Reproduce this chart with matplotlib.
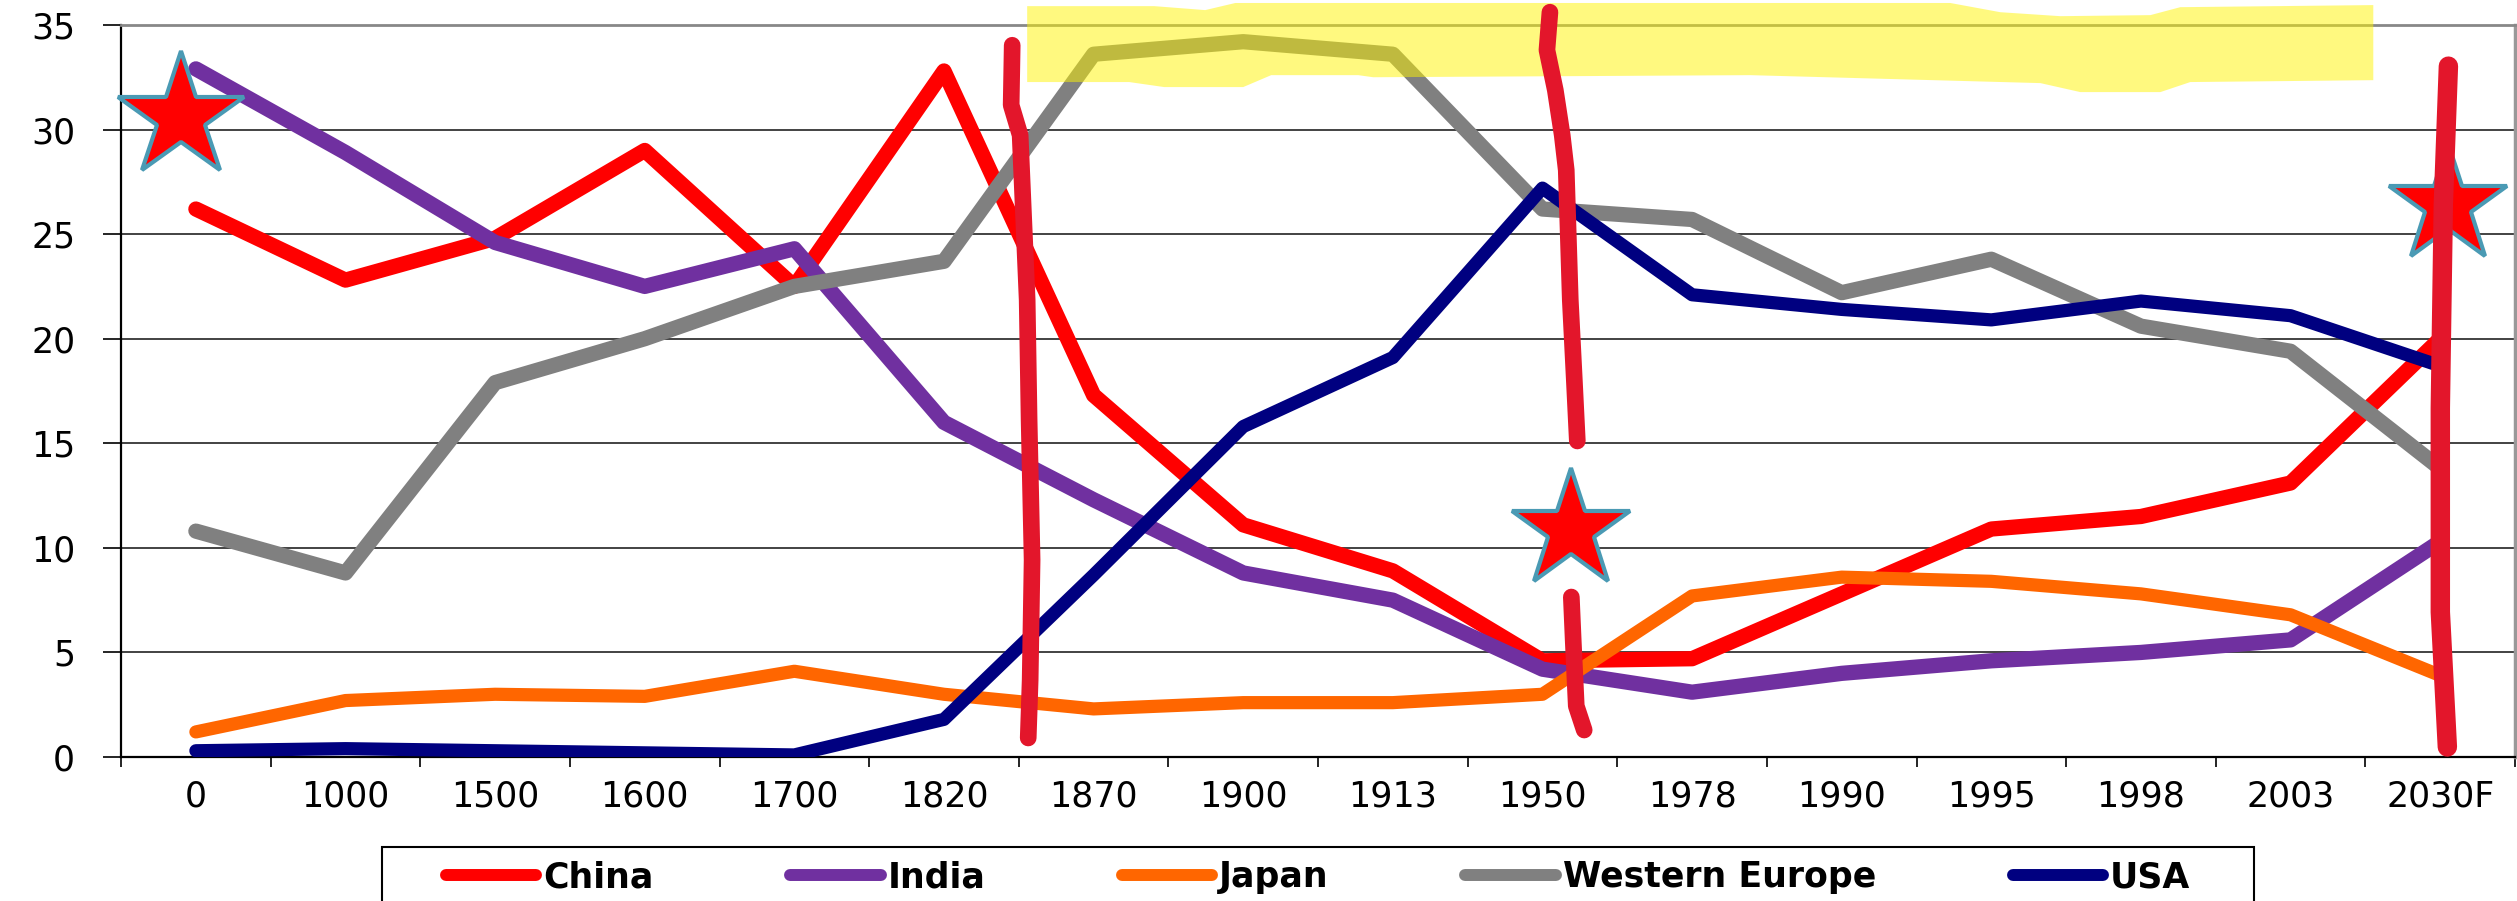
import numpy as np
import matplotlib
matplotlib.use("Agg")
import matplotlib.pyplot as plt
from matplotlib.patches import Polygon, Rectangle

# ---------------- data ----------------
categories = ['0', '1000', '1500', '1600', '1700', '1820', '1870', '1900', '1913',
              '1950', '1978', '1990', '1995', '1998', '2003', '2030F']
china   = [26.2, 22.8, 24.8, 29.0, 22.5, 32.8, 17.3, 11.1, 8.9, 4.6, 4.7, 7.8, 10.9, 11.5, 13.1, 20.0]
india   = [32.9, 28.9, 24.6, 22.5, 24.3, 16.0, 12.3, 8.8, 7.5, 4.2, 3.1, 4.0, 4.6, 5.0, 5.6, 10.3]
japan   = [1.2, 2.7, 3.0, 2.9, 4.1, 3.0, 2.3, 2.6, 2.6, 3.0, 7.7, 8.6, 8.4, 7.8, 6.8, 3.9]
weurope = [10.8, 8.8, 17.9, 20.0, 22.5, 23.7, 33.6, 34.2, 33.6, 26.2, 25.7, 22.2, 23.8, 20.6, 19.4, 13.8]
usa     = [0.3, 0.4, 0.3, 0.2, 0.1, 1.8, 8.7, 15.8, 19.1, 27.2, 22.1, 21.4, 20.9, 21.8, 21.1, 18.7]

series_names = ['China', 'India', 'Japan', 'Western Europe', 'USA']
series_values = [china, india, japan, weurope, usa]
series_colors = ['#FF0000', '#7030A0', '#FF6600', '#808080', '#000080']
series_widths = [11, 11, 9.5, 11, 9.5]

y_ticks = [0, 5, 10, 15, 20, 25, 30, 35]

# hand-drawn annotations (in data units: category index, value)
stars_x = [-0.10, 9.19, 15.05]
stars_y = [30.6, 10.85, 26.4]
stars_size = [95, 90, 90]

stroke1_x = [5.456, 5.449, 5.509, 5.536, 5.556, 5.569, 5.589, 5.576, 5.563]
stroke1_y = [34.03, 31.17, 29.73, 25.19, 21.85, 16.11, 9.42, 3.68, 0.91]
stroke2a_x = [9.050, 9.030, 9.086, 9.132, 9.159, 9.186, 9.213, 9.233]
stroke2a_y = [35.61, 33.80, 31.88, 29.73, 28.06, 21.85, 18.02, 15.11]
stroke2b_x = [9.193, 9.206, 9.226, 9.279]
stroke2b_y = [7.65, 5.50, 2.44, 1.29]
stroke3_x = [15.055, 15.021, 15.001, 15.001, 15.048]
stroke3_y = [33.03, 26.43, 16.68, 6.93, 0.48]

highlight_x = [5.556, 6.405, 6.746, 6.947, 11.726, 12.060, 12.461, 13.063, 13.263, 14.553,
               14.553, 13.330, 13.130, 12.595, 12.328, 10.389, 7.869, 7.769, 7.187, 7.000,
               6.472, 6.238, 5.556]
highlight_y = [35.90, 35.90, 35.71, 36.05, 36.05, 35.61, 35.42, 35.47, 35.85, 35.95,
               32.36, 32.27, 31.79, 31.79, 32.22, 32.60, 32.50, 32.60, 32.60, 32.03,
               32.03, 32.27, 32.27]

# ---------------- figure ----------------
plt.rcParams['font.family'] = ['DejaVu Sans']
fig = plt.figure(figsize=(25.17, 9.01), dpi=100)
ax = fig.add_axes([0.0481, 0.1598, 0.9511, 0.8125])

x = np.arange(len(categories))
lines = []
for name, vals, col, lw in zip(series_names, series_values, series_colors, series_widths):
    ln, = ax.plot(x, vals, color=col, lw=lw, label=name,
                  solid_capstyle='round', solid_joinstyle='round', zorder=3)
    lines.append(ln)

ax.set_xlim(-0.5, len(categories) - 0.5)
ax.set_ylim(0, 35)
ax.set_yticks(y_ticks)
ax.set_yticklabels([str(v) for v in y_ticks])

ax.set_xticks(np.arange(-0.5, len(categories), 1.0))
ax.set_xticklabels([])
ax.set_xticks(x, minor=True)
ax.set_xticklabels(categories, minor=True)

ax.tick_params(axis='y', length=13, width=1.2, pad=20, labelsize=25, colors='black')
ax.tick_params(axis='x', which='major', length=7, width=1.2, direction='out')
ax.tick_params(axis='x', which='minor', length=0, pad=16, labelsize=25)

ax.yaxis.grid(True, color='#222222', lw=1.2)
ax.set_axisbelow(True)

ax.spines['left'].set_color('black')
ax.spines['left'].set_linewidth(1.6)
ax.spines['bottom'].set_color('black')
ax.spines['bottom'].set_linewidth(1.6)
ax.spines['top'].set_color('#888888')
ax.spines['top'].set_linewidth(2)
ax.spines['right'].set_color('#999999')
ax.spines['right'].set_linewidth(2.5)

# yellow highlighter
ax.add_patch(Polygon(np.column_stack([highlight_x, highlight_y]), closed=True,
                     facecolor=(1.0, 0.96, 0.0, 0.5), edgecolor='none',
                     clip_on=False, zorder=5))

# stars
for sx, sy, ss in zip(stars_x, stars_y, stars_size):
    ax.plot([sx], [sy], marker='*', ms=ss, mfc='#FF0000', mec='#4A9AB4', mew=3,
            ls='none', clip_on=False, zorder=6)

# red marker strokes
stroke_col = '#E3162B'
for sxs, sys_, w in [(stroke1_x, stroke1_y, 12), (stroke2a_x, stroke2a_y, 12),
                     (stroke2b_x, stroke2b_y, 12), (stroke3_x, stroke3_y, 14)]:
    ax.plot(sxs, sys_, color=stroke_col, lw=w, solid_capstyle='round',
            solid_joinstyle='round', clip_on=False, zorder=7)

# legend
fig.patches.append(Rectangle((382 / 2517, -0.05), 1872 / 2517, 0.05 + (1 - 847 / 901),
                             transform=fig.transFigure, facecolor='white',
                             edgecolor='black', lw=1.5, zorder=1))
leg = fig.legend(handles=lines, labels=series_names, loc='center left',
                 bbox_to_anchor=(446 / 2517, 1 - 877 / 901, (2190 - 446) / 2517, 0),
                 mode='expand', ncol=5, frameon=False, borderpad=0, borderaxespad=0,
                 handlelength=2.6, handletextpad=0.2,
                 prop={'family': 'DejaVu Sans', 'weight': 'bold', 'size': 25})
for lh in leg.get_lines():
    lh.set_linewidth(8.6)
    lh.set_solid_capstyle('round')
leg.set_zorder(2)

fig.savefig('out.png', dpi=100)
